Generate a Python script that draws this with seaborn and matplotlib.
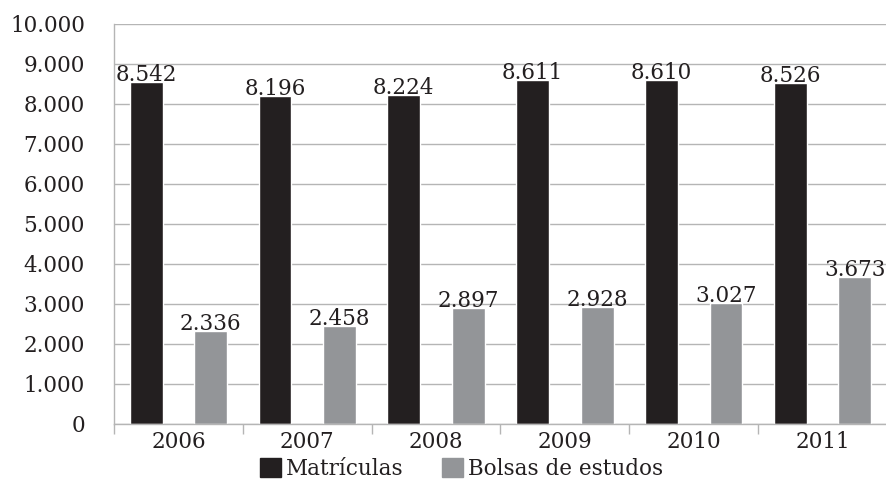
import pandas as pd
import matplotlib.pyplot as plt
import matplotlib.ticker as ticker
import seaborn as sns

anos = ['2006', '2007', '2008', '2009', '2010', '2011']
matriculas = [8542, 8196, 8224, 8611, 8610, 8526]
bolsas = [2336, 2458, 2897, 2928, 3027, 3673]
series = ['Matrículas', 'Bolsas de estudos']
cores = ['#231f20', '#939598']

df = pd.DataFrame({
    'ano': anos * 2,
    'valor': matriculas + bolsas,
    'serie': [series[0]] * len(anos) + [series[1]] * len(anos),
})

sns.set_style("white")
plt.rcParams['font.family'] = ['DejaVu Serif']
plt.rcParams.update({'font.size': 15.5, 'text.color': '#231f20',
                     'xtick.color': '#231f20', 'ytick.color': '#231f20'})

fig = plt.figure(figsize=(8.87, 4.91), dpi=100)
ax = fig.add_axes([114 / 887, 1 - 424 / 491, 1 - 114 / 887, 400 / 491])

sns.barplot(data=df, x='ano', y='valor', hue='serie', palette=cores,
            width=1.0, gap=0.49, saturation=1, ax=ax, legend=False)

# rótulos de valor
for cont in ax.containers:
    ax.bar_label(cont, labels=[f'{v:,.0f}'.replace(',', '.') for v in cont.datavalues],
                 padding=-3, fontsize=15.5, color='#231f20')

ax.set_ylim(0, 10000)
ax.set_xlim(-0.5, 5.5)
ax.yaxis.set_major_locator(ticker.MultipleLocator(1000))
ax.yaxis.set_major_formatter(ticker.FuncFormatter(lambda v, p: f'{v:,.0f}'.replace(',', '.')))
ax.yaxis.grid(True, color='#b5b5b5', linewidth=1)
ax.set_axisbelow(True)
ax.tick_params(axis='y', length=17, color='#b5b5b5', width=1, pad=4, labelsize=15.5)
ax.tick_params(axis='x', which='major', length=0, pad=5, labelsize=15.5)
ax.xaxis.set_minor_locator(ticker.FixedLocator([i - 0.5 for i in range(len(anos) + 1)]))
ax.tick_params(axis='x', which='minor', length=7, color='#b5b5b5', width=1, bottom=True)

for s in ['top', 'right']:
    ax.spines[s].set_visible(False)
for s in ['left', 'bottom']:
    ax.spines[s].set_color('#b5b5b5')
    ax.spines[s].set_linewidth(1)

ax.set_xlabel('')
ax.set_ylabel('')

handles = [plt.Rectangle((0, 0), 1, 1, color=c) for c in cores]
fig.legend(handles, series, loc='center', bbox_to_anchor=(0.52, 1 - 469 / 491),
           ncol=2, frameon=False, handlelength=1.0, handleheight=1.0,
           handletextpad=0.2, columnspacing=1.8, fontsize=15.5)

fig.savefig('out.png', dpi=100)
